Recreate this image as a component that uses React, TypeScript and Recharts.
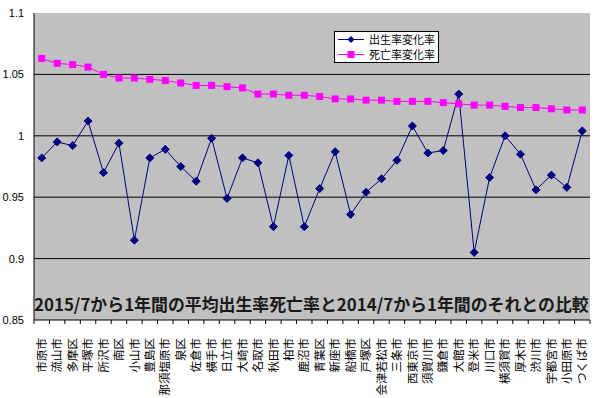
import React from 'react';
import {
  LineChart,
  Line,
  XAxis,
  YAxis,
  CartesianGrid,
  ReferenceLine,
} from 'recharts';

const cities = [
  '市原市', '流山市', '多摩区', '平塚市', '所沢市', '南区', '小山市', '豊島区', '那須塩原市',
  '泉区', '佐倉市', '横手市', '日立市', '大崎市', '名取市', '秋田市', '柏市', '鹿沼市',
  '青葉区', '新座市', '船橋市', '戸塚区', '会津若松市', '三条市', '西東京市', '須賀川市',
  '鎌倉市', '大館市', '登米市', '川口市', '横須賀市', '厚木市', '渋川市', '宇都宮市',
  '小田原市', 'つくば市',
];

const birthRate = [
  0.982, 0.995, 0.992, 1.012, 0.970, 0.994, 0.915, 0.982, 0.989, 0.975, 0.963, 0.998,
  0.949, 0.982, 0.978, 0.926, 0.984, 0.926, 0.957, 0.987, 0.936, 0.954, 0.965, 0.980,
  1.008, 0.986, 0.988, 1.034, 0.905, 0.966, 1.000, 0.985, 0.956, 0.968, 0.958, 1.004,
];

const deathRate = [
  1.063, 1.059, 1.058, 1.056, 1.050, 1.047, 1.047, 1.046, 1.045, 1.043, 1.041, 1.041,
  1.040, 1.039, 1.034, 1.034, 1.033, 1.033, 1.032, 1.030, 1.030, 1.029, 1.029, 1.028,
  1.028, 1.028, 1.027, 1.026, 1.025, 1.025, 1.024, 1.023, 1.023, 1.022, 1.021, 1.021,
];

const yTicks = [0.85, 0.9, 0.95, 1, 1.05, 1.1];
const gridValues = [0.9, 0.95, 1, 1.05];

const BLUE = '#000080';
const PINK = '#FF00FF';
const title = '2015/7から1年間の平均出生率死亡率と2014/7から1年間のそれとの比較';

const data = cities.map((name, i) => ({
  name,
  birth: birthRate[i],
  death: deathRate[i],
}));

const W = 598;
const H = 398;
const margin = { top: 13, right: 8, bottom: 0, left: 0 };
const plotLeft = 34;
const plotRight = W - margin.right;
const band = (plotRight - plotLeft) / cities.length;

function Diamond(props: any) {
  const { cx, cy } = props;
  if (cx == null || cy == null) return null;
  const r = 4;
  return (
    <polygon
      points={`${cx},${cy - r} ${cx + r},${cy} ${cx},${cy + r} ${cx - r},${cy}`}
      fill={BLUE}
      stroke={BLUE}
    />
  );
}

function Square(props: any) {
  const { cx, cy } = props;
  if (cx == null || cy == null) return null;
  return <rect x={cx - 3.5} y={cy - 3.5} width={7} height={7} fill={PINK} />;
}

// category labels: rotated, Excel-style tick marks between categories
function CityTick(props: any) {
  const { x, y, payload, index } = props;
  const left = x - band / 2;
  const ty = y + 10;
  return (
    <g>
      <line x1={left} y1={y - 8} x2={left} y2={y - 4} stroke="#000" />
      {index === cities.length - 1 && (
        <line x1={x + band / 2} y1={y - 8} x2={x + band / 2} y2={y - 4} stroke="#000" />
      )}
      <text
        x={x}
        y={ty}
        transform={`rotate(-90, ${x}, ${ty})`}
        textAnchor="end"
        dy="0.36em"
        fontSize={11.5}
        fontFamily="'Noto Sans CJK JP', sans-serif"
        fill="#000"
      >
        {payload.value}
      </text>
    </g>
  );
}

function LegendBox() {
  const row = (color: string, label: string, marker: React.ReactNode) => (
    <div style={{ display: 'flex', alignItems: 'center', height: 15 }}>
      <svg width={28} height={15}>
        <line x1={1} y1={7.5} x2={27} y2={7.5} stroke={color} strokeWidth={1} />
        {marker}
      </svg>
      <span style={{ marginLeft: 4 }}>{label}</span>
    </div>
  );
  return (
    <div
      style={{
        position: 'absolute',
        left: 334,
        top: 31,
        width: 101,
        height: 30,
        background: '#fff',
        border: '1px solid #000',
        padding: '0 0 0 2px',
        fontSize: 11,
        fontFamily: "'Noto Sans CJK JP', sans-serif",
        lineHeight: '15px',
        color: '#000',
        whiteSpace: 'nowrap',
      }}
    >
      {row(BLUE, '出生率変化率', <polygon points="14,4 17.5,7.5 14,11 10.5,7.5" fill={BLUE} />)}
      {row(PINK, '死亡率変化率', <rect x={10.5} y={4} width={7} height={7} fill={PINK} />)}
    </div>
  );
}

export default function App() {
  return (
    <div
      style={{
        position: 'absolute',
        left: 0,
        top: 0,
        width: W,
        height: H,
        background: '#fff',
      }}
    >
      <LineChart width={W} height={H} data={data} margin={margin}>
        <CartesianGrid fill="#C0C0C0" stroke="none" horizontal={false} vertical={false} />
        {gridValues.map((v) => (
          <ReferenceLine key={v} y={v} stroke="#000" strokeWidth={1} />
        ))}
        <XAxis
          dataKey="name"
          interval={0}
          height={78}
          padding={{ left: band / 2, right: band / 2 }}
          axisLine={{ stroke: '#000' }}
          tickLine={false}
          tick={<CityTick />}
        />
        <YAxis
          domain={[0.85, 1.1]}
          ticks={yTicks}
          width={34}
          axisLine={{ stroke: '#000' }}
          tickLine={false}
          tick={{ fill: '#000', fontSize: 11, fontFamily: "'Liberation Sans', Arial, sans-serif" }}
          tickMargin={4}
        />
        <Line
          type="linear"
          dataKey="birth"
          name="出生率変化率"
          stroke={BLUE}
          strokeWidth={1}
          dot={<Diamond />}
          activeDot={false}
          isAnimationActive={false}
        />
        <Line
          type="linear"
          dataKey="death"
          name="死亡率変化率"
          stroke={PINK}
          strokeWidth={1}
          dot={<Square />}
          activeDot={false}
          isAnimationActive={false}
        />
      </LineChart>
      <LegendBox />
      <div
        style={{
          position: 'absolute',
          left: 34,
          top: 293,
          fontSize: 16.9,
          fontWeight: 'bold',
          fontFamily: "'Noto Sans CJK JP', sans-serif",
          color: '#1a1a1a',
          whiteSpace: 'nowrap',
          lineHeight: '22px',
        }}
      >
        {title}
      </div>
    </div>
  );
}
